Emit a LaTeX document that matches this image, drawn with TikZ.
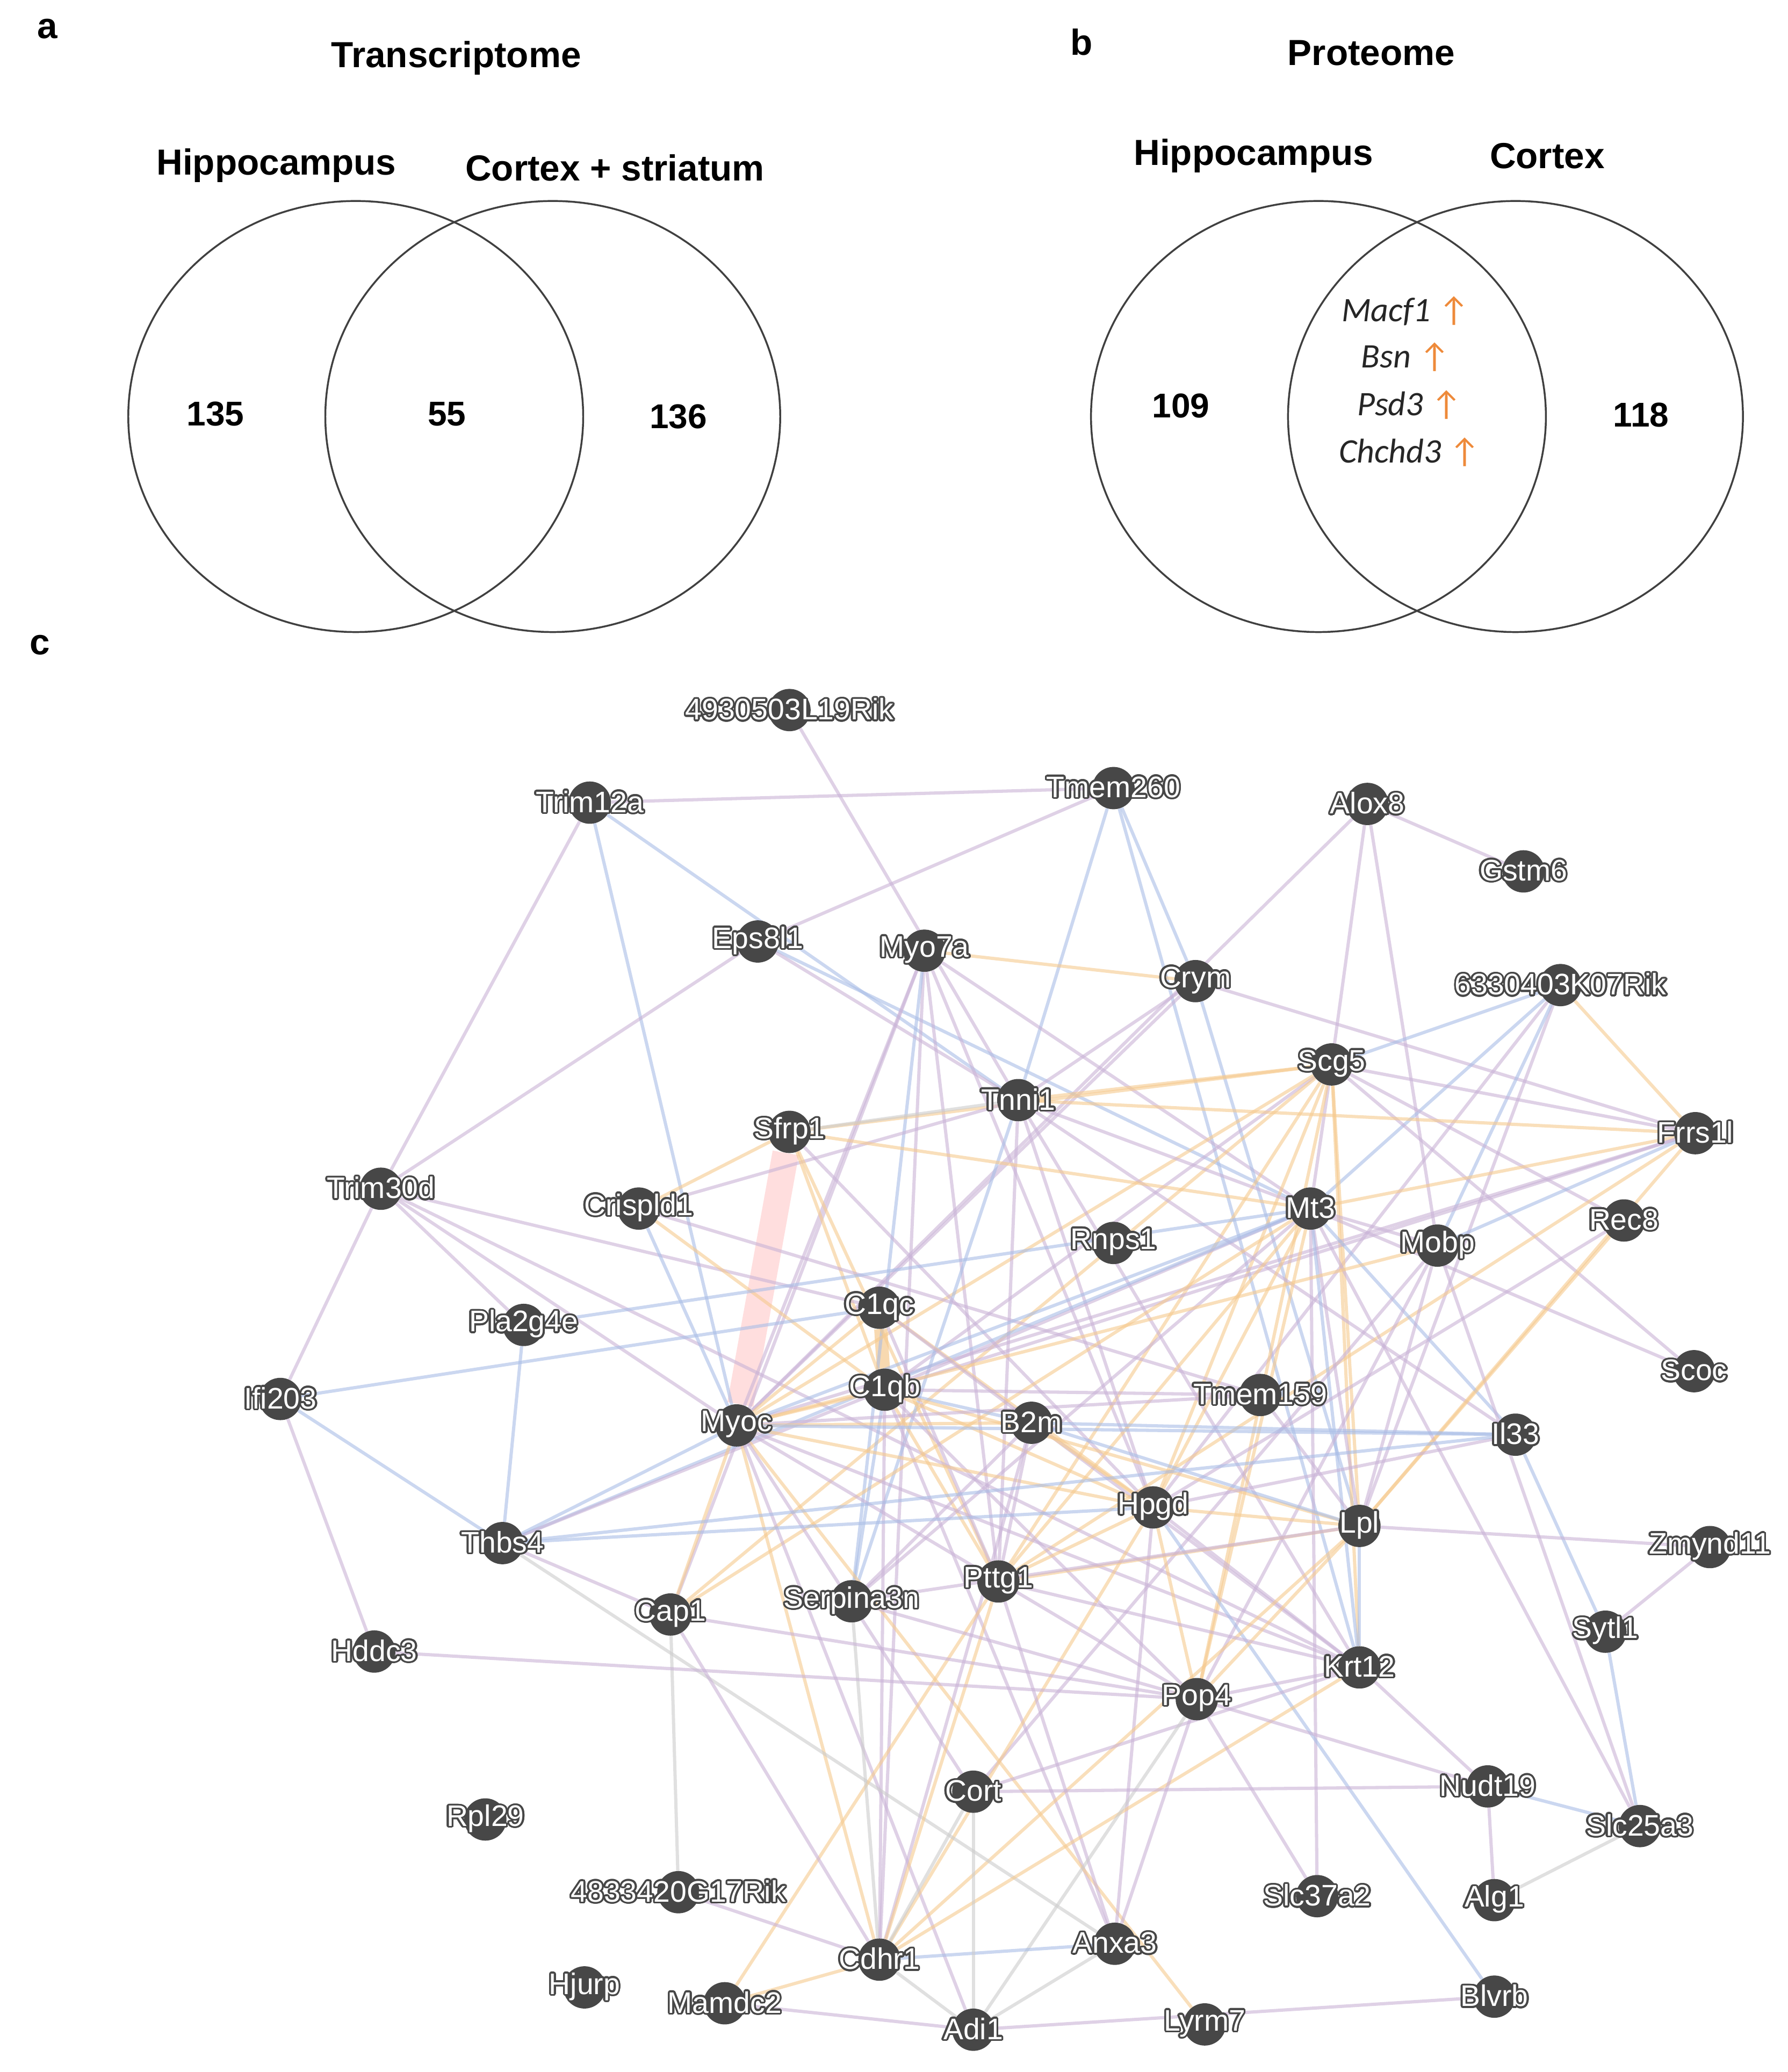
\documentclass[tikz,border=0pt]{standalone}
\usepackage{fontspec}
\setmainfont{Liberation Sans}
\newfontfamily\carlito{Carlito}
\usepackage{contour}
\contournumber{24}
\contourlength{2pt}
\usetikzlibrary{backgrounds}
\definecolor{pu}{HTML}{C9B3D6}
\definecolor{or}{HTML}{F5C98E}
\definecolor{bl}{HTML}{A9BDE6}
\definecolor{gr}{HTML}{CCCCCC}
\definecolor{nd}{HTML}{474747}
\definecolor{ar}{HTML}{EE8A3A}
\begin{document}
\begin{tikzpicture}[x=0.05cm,y=-0.05cm,
  g/.style={circle,fill=nd,minimum size=1.6cm,inner sep=0pt,
    label={[text=white,font=\fontsize{32}{34}\selectfont]center:\contour{nd}{#1}}},
  e/.style={line width=3.5pt,opacity=0.6},
  pu/.style={e,draw=pu},or/.style={e,draw=or},bl/.style={e,draw=bl},gr/.style={e,draw=gr},
  ven/.style={draw=black!75,line width=2pt},
  hd/.style={font=\bfseries\fontsize{39}{42}\selectfont},
  num/.style={font=\bfseries\fontsize{37}{40}\selectfont},
  it/.style={font=\carlito\itshape\fontsize{37}{40}\selectfont,text=black!85}]
\useasboundingbox (0,0) rectangle (1352,1567);
% panel letters
\node[hd] (la) at (36,22) {a};
\node[hd] (lb) at (818,32) {b};
\node[hd] (lc) at (30,488) {c};
% panel a
\node[hd] (ta) at (345,44) {Transcriptome};
\node[hd] (h1) at (209,125) {Hippocampus};
\node[hd] (cs) at (465,127) {Cortex + striatum};
\draw[ven] (269,315) ellipse [x radius=172, y radius=163];
\draw[ven] (418,315) ellipse [x radius=172, y radius=163];
\node[num] (n1) at (163,313) {135};
\node[num] (n2) at (338,313) {55};
\node[num] (n3) at (513,315) {136};
% panel b
\node[hd] (tb) at (1037,40) {Proteome};
\node[hd] (h2) at (948,118) {Hippocampus};
\node[hd] (cx) at (1170,118) {Cortex};
\draw[ven] (997,315) ellipse [x radius=172, y radius=163];
\draw[ven] (1146,315) ellipse [x radius=172, y radius=163];
\node[num] (n4) at (893,307) {109};
\node[num] (n5) at (1241,314) {118};
\node[it] (g1) at (1063,235) {Macf1 \textcolor{ar}{\upshape ↑}};
\node[it] (g2) at (1063,270) {Bsn \textcolor{ar}{\upshape ↑}};
\node[it] (g3) at (1066,306) {Psd3 \textcolor{ar}{\upshape ↑}};
\node[it] (g4) at (1066,342) {Chchd3 \textcolor{ar}{\upshape ↑}};
% panel c nodes
\foreach \n/\x/\y in {4930503L19Rik/597/537,Trim12a/446/607,Tmem260/842/596,Alox8/1034/608,
 Gstm6/1152/659,Eps8l1/573/712,Myo7a/699/719,Crym/904/742,6330403K07Rik/1180/745,Scg5/1007/805,
 Tnni1/770/832,Sfrp1/597/856,Frrs1l/1282/857,Trim30d/288/899,Crispld1/483/914,Mt3/991/914,
 Rnps1/842/940,Mobp/1087/942,Rec8/1228/923,C1qc/665/989,Pla2g4e/396/1002,Scoc/1281/1037,
 Ifi203/212/1058,C1qb/669/1051,Tmem159/953/1055,Myoc/557/1078,B2m/780/1076,Il33/1146/1085,
 Hpgd/872/1140,Lpl/1028/1154,Thbs4/380/1167,Zmynd11/1293/1170,Pttg1/755/1196,Serpina3n/644/1211,
 Cap1/507/1221,Sytl1/1214/1234,Hddc3/283/1249,Krt12/1028/1261,Pop4/905/1285,Nudt19/1125/1351,
 Cort/736/1355,Slc25a3/1240/1381,Rpl29/367/1376,4833420G17Rik/513/1431,Slc37a2/996/1434,
 Alg1/1130/1437,Anxa3/843/1470,Cdhr1/665/1482,Hjurp/442/1503,Mamdc2/548/1515,Blvrb/1130/1510,
 Adi1/736/1535,Lyrm7/911/1531}
 \node[g=\n] (\n) at (\x,\y) {};
\begin{scope}[on background layer]
\draw[line width=1cm,draw=red!45!pink,opacity=0.22] (Sfrp1) -- (Myoc);
\draw[line width=0.5cm,draw=or,opacity=0.7] (C1qc) -- (C1qb);
\foreach \a/\b/\c in {Trim12a/Tmem260/pu,4930503L19Rik/Tnni1/pu,Trim12a/Trim30d/pu,Trim12a/Myoc/bl,
 Trim12a/Tnni1/bl,Tmem260/Eps8l1/pu,Tmem260/Tnni1/bl,Tmem260/Krt12/bl,Tmem260/Crym/bl,
 Alox8/Gstm6/pu,Alox8/Mobp/pu,Alox8/Scg5/pu,Alox8/Myoc/pu,Eps8l1/Trim30d/pu,Eps8l1/Mt3/bl,
 Myo7a/Crym/or,Myo7a/Cdhr1/pu,Myo7a/Myoc/pu,Myo7a/Pttg1/pu,Myo7a/Mt3/pu,Myo7a/Serpina3n/bl,
 Myo7a/Hpgd/pu,Myo7a/Cap1/pu,Crym/Lpl/bl,Crym/Myoc/pu,Crym/Frrs1l/pu,
 6330403K07Rik/Mt3/bl,6330403K07Rik/Scg5/bl,6330403K07Rik/Frrs1l/or,6330403K07Rik/Lpl/pu,
 6330403K07Rik/Mobp/bl,6330403K07Rik/Hpgd/pu,Scg5/Tnni1/or,Scg5/Sfrp1/or,Scg5/Mt3/pu,
 Scg5/C1qb/pu,Scg5/Pttg1/or,Scg5/Frrs1l/pu,Scg5/Rec8/pu,Scg5/Scoc/pu,Scg5/Krt12/or,Scg5/Pop4/or,
 Scg5/Hpgd/or,Scg5/Cap1/or,Scg5/Lpl/or,Scg5/Myoc/or,Tnni1/Sfrp1/gr,Tnni1/Frrs1l/or,Tnni1/Mt3/pu,
 Tnni1/Il33/pu,Tnni1/Hpgd/pu,Tnni1/Pttg1/pu,Tnni1/Serpina3n/bl,Tnni1/Krt12/pu,Tnni1/Crispld1/pu,
 Sfrp1/C1qb/or,Sfrp1/Pttg1/or,Sfrp1/Crispld1/or,Sfrp1/Mt3/or,Sfrp1/Hpgd/pu,Frrs1l/Mt3/or,
 Frrs1l/Myoc/pu,Frrs1l/Pttg1/or,Frrs1l/Lpl/or,Frrs1l/C1qb/pu,Frrs1l/Mobp/bl,Trim30d/Ifi203/pu,
 Trim30d/Myoc/pu,Trim30d/C1qc/pu,Trim30d/Krt12/pu,Trim30d/Pla2g4e/pu,Crispld1/Myoc/bl,
 Crispld1/C1qb/or,Crispld1/Tmem159/pu,Mt3/C1qb/pu,Mt3/Myoc/bl,Mt3/Lpl/pu,Mt3/Krt12/bl,Mt3/Pop4/or,
 Mt3/Scoc/pu,Mt3/Slc25a3/pu,Mt3/Il33/bl,Mt3/Mobp/pu,Mt3/Pttg1/or,Mt3/Cap1/or,Mt3/Serpina3n/pu,
 Mt3/Slc37a2/pu,Mt3/Hpgd/or,Mt3/Thbs4/bl,Mobp/Lpl/pu,Mobp/Slc25a3/pu,Mobp/Pop4/pu,Mobp/Myoc/or,
 Mobp/Cort/pu,Rec8/Lpl/or,Rec8/Hpgd/pu,C1qc/Myoc/or,C1qc/Pttg1/pu,C1qc/Ifi203/bl,C1qc/Hpgd/or,
 C1qc/Krt12/pu,Pla2g4e/Thbs4/bl,Pla2g4e/Mt3/bl,Ifi203/Hddc3/pu,Ifi203/Thbs4/bl,C1qb/Myoc/or,
 C1qb/Serpina3n/bl,C1qb/B2m/bl,C1qb/Hpgd/or,C1qb/Lpl/or,C1qb/Cdhr1/pu,C1qb/Anxa3/pu,C1qb/Pop4/pu,
 C1qb/Pttg1/or,C1qb/Thbs4/pu,C1qb/Tmem159/pu,Tmem159/Lpl/pu,Tmem159/Myoc/pu,Myoc/B2m/or,
 Myoc/Thbs4/bl,Myoc/Cap1/or,Myoc/Cdhr1/or,Myoc/Lyrm7/or,Myoc/Hpgd/or,Myoc/Krt12/pu,Myoc/Il33/bl,
 Myoc/Pop4/pu,Myoc/Adi1/pu,Myoc/Cort/pu,B2m/Hpgd/or,B2m/Lpl/bl,B2m/Pttg1/pu,B2m/Serpina3n/pu,
 B2m/Cdhr1/pu,B2m/Il33/bl,Il33/Sytl1/bl,Il33/Hpgd/pu,Il33/Thbs4/bl,Hpgd/Lpl/or,Hpgd/Pttg1/or,
 Hpgd/Krt12/pu,Hpgd/Blvrb/bl,Hpgd/Cdhr1/or,Hpgd/Anxa3/pu,Hpgd/Pop4/or,Lpl/Pttg1/or,Lpl/Zmynd11/pu,
 Lpl/Pop4/or,Lpl/Cdhr1/or,Lpl/Serpina3n/pu,Lpl/Krt12/bl,Thbs4/Hpgd/bl,Thbs4/Cap1/pu,Thbs4/Anxa3/gr,
 Zmynd11/Sytl1/pu,Pttg1/Cdhr1/or,Pttg1/Krt12/pu,Pttg1/Mamdc2/or,Pttg1/Anxa3/pu,Serpina3n/Cdhr1/gr,
 Serpina3n/Pop4/pu,Cap1/4833420G17Rik/gr,Cap1/Pop4/pu,Cap1/Cdhr1/pu,Sytl1/Slc25a3/bl,Hddc3/Pop4/pu,
 Krt12/Cdhr1/or,Krt12/Nudt19/pu,Krt12/Pop4/pu,Krt12/Cort/pu,Pop4/Slc37a2/pu,Pop4/Anxa3/pu,
 Pop4/Nudt19/pu,Pop4/Adi1/gr,Nudt19/Slc25a3/bl,Nudt19/Alg1/pu,Nudt19/Cort/pu,Slc25a3/Alg1/gr,
 Anxa3/Cdhr1/bl,Anxa3/Adi1/gr,Cdhr1/Mamdc2/or,Cdhr1/Adi1/gr,Cdhr1/4833420G17Rik/pu,
 Cort/Adi1/gr,Cort/Cdhr1/gr,Mamdc2/Adi1/pu,Adi1/Blvrb/pu,Crym/Tnni1/pu,Eps8l1/Tnni1/pu}
 \draw[\c] (\a) -- (\b);
\end{scope}
\end{tikzpicture}
\end{document}
